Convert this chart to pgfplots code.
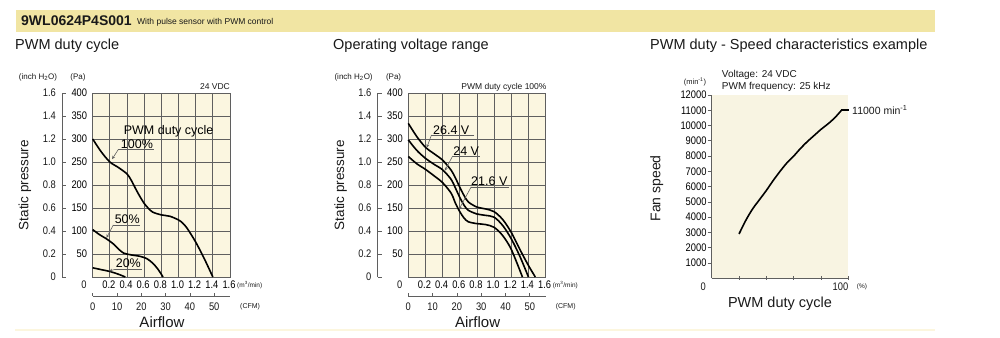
\documentclass[border=0pt]{standalone}
\usepackage{pgfplots}
\pgfplotsset{compat=1.18}
\usepackage{pgfplotstable}
\usetikzlibrary{arrows.meta}
\usepackage{fontspec}
\setmainfont{Liberation Sans}
\newfontfamily\cond[FakeStretch=0.85]{Liberation Sans}
\definecolor{cream}{RGB}{251,246,224}
\definecolor{creamc}{RGB}{248,244,226}
\definecolor{band}{RGB}{241,229,163}
\definecolor{gridc}{RGB}{95,95,95}
\definecolor{txt}{RGB}{25,25,25}
\definecolor{pale}{RGB}{252,246,222}
\newcommand\fs[1]{\fontsize{#1}{#1}\selectfont}
\newcommand\ticks{\cond\fs{11}}

\pgfplotstableread{
x y
0 300
0.1 272
0.2 250
0.3 238
0.4 224
0.45 210
0.5 192
0.55 175
0.6 160
0.65 149
0.7 141
0.8 135
0.9 132
1.0 124
1.05 117
1.1 106
1.2 76
1.3 40
1.4 0
}\dutyA
\pgfplotstableread{
x y
0 103
0.08 92
0.16 83
0.24 72
0.3 61
0.36 52
0.45 48
0.55 45
0.63 40
0.7 30
0.76 17
0.82 0
}\dutyB
\pgfplotstableread{
x y
0 20
0.1 16
0.2 12
0.3 6
0.38 0
}\dutyC
\pgfplotstableread{
x y
0 334
0.1 305
0.2 282
0.3 268
0.4 254
0.5 232
0.55 215
0.6 195
0.65 177
0.7 163
0.8 152
0.9 148
1.0 142
1.1 125
1.2 97
1.3 60
1.4 25
1.48 0
}\voltA
\pgfplotstableread{
x y
0 298
0.1 275
0.2 258
0.3 245
0.4 233
0.5 212
0.55 193
0.6 173
0.65 156
0.7 145
0.8 137
0.9 134
1.0 130
1.1 112
1.2 83
1.3 45
1.4 0
}\voltB
\pgfplotstableread{
x y
0 262
0.1 246
0.2 234
0.3 220
0.4 205
0.5 182
0.55 160
0.6 142
0.65 128
0.7 120
0.8 116
0.9 114
1.0 108
1.1 90
1.2 60
1.33 0
}\voltC
\pgfplotstableread{
x y
20 2900
25 3800
30 4550
35 5150
40 5750
45 6400
50 7000
55 7550
60 8000
65 8500
70 8950
75 9350
80 9750
85 10100
90 10500
95 11000
}\speed
\pgfplotstableread{
x y
95 11000
100.5 11000
}\speedflat

\tikzset{curve/.style={black,line width=1.6pt,smooth,mark=none},
  lead/.style={gridc,line width=0.6pt},
  leadarr/.style={gridc,line width=0.6pt,-{Stealth[length=3.5pt,width=3pt]}},
  lab/.style={inner sep=0pt,font=\fs{12.5}}}

\pgfplotsset{pressaxis/.style={anchor=south west, scale only axis,
  width=137.3pt, height=184pt, xmin=0,xmax=1.6,ymin=0,ymax=400,
  xtick={0,0.2,0.4,0.6,0.8,1.0,1.2,1.4,1.6},
  xticklabels={,0.2,0.4,0.6,0.8,1.0,1.2,1.4,1.6},
  ytick={0,50,100,150,200,250,300,350,400},
  yticklabels={,50,100,150,200,250,300,350,400},
  grid=major, major grid style={gridc,line width=0.9pt},
  axis line style={gridc,line width=0.9pt},
  axis background/.style={fill=cream},
  major tick length=0pt, tick style={draw=none},
  tick label style={font=\ticks},
  xticklabel style={anchor=north,inner sep=0pt,yshift=-4pt,xshift=-1pt},
  yticklabel style={anchor=east,inner sep=0pt,xshift=-5.4pt},
  clip=false}}

\newcommand\pressdecor{%
  \draw[gridc,line width=0.8] (62,60) -- (62,244);
  \foreach \v [count=\i from 0] in {0,0.2,0.4,0.6,0.8,1.0,1.2,1.4,1.6}{
    \draw[gridc,line width=0.8] (62,{60+\i*23}) -- (66,{60+\i*23});
    \node[anchor=east,inner sep=0] at (56,{60+\i*23}) {\ticks\v};
  }
  \node[inner sep=0] at (38,260) {\fs{8}(inch H\textsubscript{2}O)};
  \node[inner sep=0] at (78,260) {\fs{8}(Pa)};
  \node[inner sep=0] at (84,52) {\ticks 0};
  \node[anchor=west,inner sep=0] at (237,52) {\fs{6.5}(m\textsuperscript{3}/min)};
  \draw[gridc,line width=0.8] (92.7,41) -- (230,41);
  \foreach \c in {0,10,20,30,40,50}{
    \pgfmathsetmacro\cx{92.7+\c/35.31/1.6*137.3}
    \draw[gridc,line width=0.8] (\cx,41) -- (\cx,44);
    \node[inner sep=0] at (\cx,30) {\ticks\c};
  }
  \node[anchor=west,inner sep=0] at (240,30) {\fs{7}(CFM)};
  \node[inner sep=0] at (162,15) {\fs{15}Airflow};
  \node[rotate=90,inner sep=0] at (25,152) {\fs{13.5}Static pressure};
}

\begin{document}
\begin{tikzpicture}[font=\color{txt}]
\begin{scope}[x=1pt,y=1pt]
\path[use as bounding box] (0,0) rectangle (1000,337);
\fill[band] (16,305) rectangle (935,326.5);
\fill[pale] (15,6) rectangle (935,8.5);
\node[anchor=west,inner sep=0] at (21,316) {\fs{14}\bfseries 9WL0624P4S001};
\node[anchor=west,inner sep=0] at (137,315) {\fs{8.5}With pulse sensor with PWM control};
\node[anchor=west,inner sep=0] at (15,291) {\fs{14.5}PWM duty cycle};
\node[anchor=west,inner sep=0] at (333,291) {\fs{14.5}Operating voltage range};
\node[anchor=west,inner sep=0] at (650,291) {\fs{14.5}PWM duty - Speed characteristics example};
\pressdecor
\node[anchor=east,inner sep=0] at (230,250) {\fs{8.5}24 VDC};
\end{scope}
\begin{scope}[x=1pt,y=1pt,xshift=315.6pt]
\pressdecor
\node[anchor=east,inner sep=0] at (231.1,250) {\fs{8.5}PWM duty cycle 100\%};
\end{scope}

% Chart 1
\begin{axis}[pressaxis, at={(92.7pt,60pt)}]
\addplot[curve] table {\dutyA};
\addplot[curve] table {\dutyB};
\addplot[curve] table {\dutyC};
\node[lab] at (axis cs:0.885,316) {PWM duty cycle};
\node[lab] at (axis cs:0.516,288) {100\%};
\draw[lead] (axis cs:0.714,277.6) -- (axis cs:0.30,277.6);
\draw[leadarr] (axis cs:0.30,277.6) -- (axis cs:0.225,256);
\node[lab] at (axis cs:0.403,126) {50\%};
\draw[lead] (axis cs:0.55,113) -- (axis cs:0.24,113);
\draw[leadarr] (axis cs:0.24,113) -- (axis cs:0.16,85);
\node[lab] at (axis cs:0.415,29) {20\%};
\draw[lead] (axis cs:0.57,16.7) -- (axis cs:0.26,16.7);
\draw[leadarr] (axis cs:0.26,16.7) -- (axis cs:0.19,12.8);
\end{axis}

% Chart 2
\begin{axis}[pressaxis, at={(408.3pt,60pt)}]
\addplot[curve] table {\voltA};
\addplot[curve] table {\voltB};
\addplot[curve] table {\voltC};
\node[lab] at (axis cs:0.50,320) {26.4 V};
\draw[lead] (axis cs:0.77,308.7) -- (axis cs:0.27,308.7);
\draw[leadarr] (axis cs:0.27,308.7) -- (axis cs:0.215,281);
\node[lab] at (axis cs:0.675,273) {24 V};
\draw[lead] (axis cs:0.83,263) -- (axis cs:0.517,263);
\draw[leadarr] (axis cs:0.517,263) -- (axis cs:0.425,231);
\node[lab] at (axis cs:0.944,208) {21.6 V};
\draw[lead] (axis cs:1.176,196) -- (axis cs:0.733,196);
\draw[leadarr] (axis cs:0.733,196) -- (axis cs:0.59,147);
\end{axis}

% Chart 3
\begin{axis}[at={(711.7pt,58.7pt)}, anchor=south west, scale only axis,
  width=136.6pt, height=183.3pt, xmin=0,xmax=100,ymin=0,ymax=12000,
  axis lines*=left, axis line style={gridc,line width=0.8pt},
  axis background/.style={fill=creamc},
  xtick=\empty, ytick={1000,2000,3000,4000,5000,6000,7000,8000,9000,10000,11000,12000},
  yticklabels={1000,2000,3000,4000,5000,6000,7000,8000,9000,10000,11000,12000},
  scaled y ticks=false, tick align=outside, major tick length=4pt,
  tick style={gridc,line width=0.8pt},
  yticklabel style={font=\ticks,anchor=east,inner sep=0pt,xshift=-1pt},
  clip=false]
\addplot[curve] table {\speed};
\addplot[black,line width=1.6pt,mark=none] table {\speedflat};
\pgfplotsinvokeforeach{20,40,60,80,100}{
  \draw[gridc,line width=0.8pt] (axis cs:#1,0) ++(0pt,-1.5pt) -- ++(0pt,4pt);
}
\end{axis}
\begin{scope}[x=1pt,y=1pt]
\node[inner sep=0] at (695,255.3) {\fs{7.5}(min\textsuperscript{-1})};
\node[anchor=west,inner sep=0] at (721.7,262) {\fs{10}Voltage: 24 VDC};
\node[anchor=west,inner sep=0] at (721.7,250.3) {\fs{10}PWM frequency: 25 kHz};
\node[rotate=90,inner sep=0] at (656.7,148.7) {\fs{14}Fan speed};
\node[inner sep=0] at (703.3,50) {\ticks 0};
\node[inner sep=0] at (840.5,50) {\ticks 100};
\node[inner sep=0] at (862,50) {\fs{6.5}(\%)};
\node[inner sep=0] at (780,33.7) {\fs{14.5}PWM duty cycle};
\node[anchor=west,inner sep=0] at (852,227) {\fs{10.5}11000 min\textsuperscript{-1}};
\end{scope}
\end{tikzpicture}
\end{document}
